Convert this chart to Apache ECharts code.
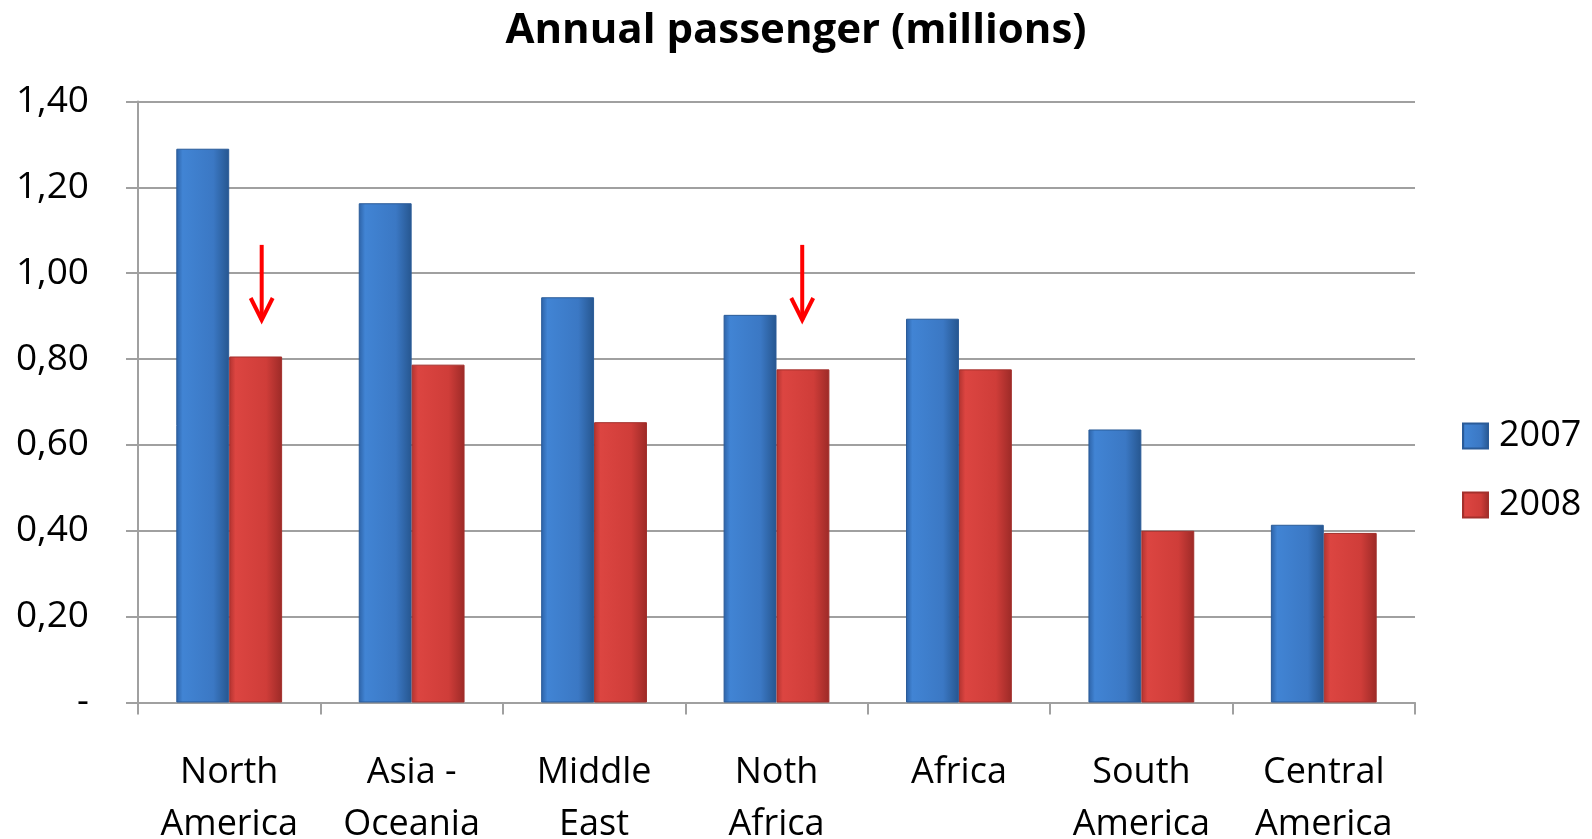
<!DOCTYPE html>
<html>
<head>
<meta charset="utf-8">
<script src="https://cdn.jsdelivr.net/npm/echarts@6/dist/echarts.min.js"></script>
<style>html,body{margin:0;padding:0;background:#fff;}#c{width:1592px;height:839px;}</style>
</head>
<body>
<div id="c"></div>
<script>
const categories = ['North\nAmerica', 'Asia -\nOceania', 'Middle\nEast', 'Noth\nAfrica', 'Africa', 'South\nAmerica', 'Central\nAmerica'];
const series2007 = [1.29, 1.163, 0.944, 0.903, 0.894, 0.636, 0.414];
const series2008 = [0.806, 0.787, 0.653, 0.776, 0.776, 0.400, 0.395];
const yTicks = [0, 0.2, 0.4, 0.6, 0.8, 1.0, 1.2, 1.4];
// arrows: [category index, top value, tip value, offset within band]
const arrows = [[0, 1.066, 0.891, 0.178], [3, 1.066, 0.891, 0.141]];

const FONT = '"Open Sans", Lato, sans-serif';
function grad(c0, c1, c2, c3) {
  return new echarts.graphic.LinearGradient(0, 0, 1, 0, [
    {offset: 0, color: c0}, {offset: 0.12, color: c1}, {offset: 0.7, color: c2}, {offset: 1, color: c3}
  ]);
}
const blue = grad('#2d62a6', '#4184d4', '#3b78c4', '#26568f');
const red = grad('#b23330', '#dc4541', '#cf3d39', '#9c2a27');

const chart = echarts.init(document.getElementById('c'), null, {renderer: 'canvas'});
chart.setOption({
  animation: false,
  title: {
    text: 'Annual passenger (millions)',
    left: 'center', top: 8, padding: 0,
    textStyle: {fontFamily: FONT, fontWeight: 'bold', fontSize: 42, lineHeight: 46, color: '#000'}
  },
  legend: {
    orient: 'vertical', left: 1462, top: 418, padding: 0,
    itemWidth: 25, itemHeight: 25, itemGap: 33,
    data: ['2007', '2008'],
    textStyle: {fontFamily: FONT, fontSize: 36, lineHeight: 36, color: '#000', padding: [0, 0, 0, 6]},
    icon: 'rect'
  },
  grid: {left: 138, right: 177, top: 101.5, bottom: 136.5, containLabel: false, outerBoundsMode: 'none'},
  xAxis: {
    type: 'category', data: categories,
    axisLine: {lineStyle: {color: '#a0a0a0', width: 2}},
    axisTick: {show: true, length: 12, lineStyle: {color: '#a0a0a0', width: 2}},
    axisLabel: {fontFamily: FONT, fontSize: 36, color: '#000', margin: 44, lineHeight: 52, interval: 0, verticalAlign: 'top'}
  },
  yAxis: {
    type: 'value', min: 0, max: 1.4, interval: 0.2,
    axisLine: {show: true, lineStyle: {color: '#a0a0a0', width: 2}},
    axisTick: {show: true, length: 12, lineStyle: {color: '#a0a0a0', width: 2}},
    splitLine: {lineStyle: {color: '#a0a0a0', width: 2}},
    axisLabel: {
      fontFamily: FONT, fontSize: 37, color: '#000', margin: 49, align: 'right',
      formatter: v => {
        const t = yTicks.find(x => Math.abs(x - v) < 1e-6);
        if (t === 0) return '-';
        return (t !== undefined ? t : v).toFixed(2).replace('.', ',');
      }
    }
  },
  series: [
    {name: '2007', type: 'bar', data: series2007, barGap: '0%', barCategoryGap: '42%',
     itemStyle: {color: blue, borderColor: '#2a5b98', borderWidth: 1}},
    {name: '2008', type: 'bar', data: series2008,
     itemStyle: {color: red, borderColor: '#a3302c', borderWidth: 1}},
    {name: 'arrows', type: 'custom', data: arrows, z: 10, silent: true,
     encode: {x: 0, y: [1, 2]},
     renderItem: function (params, api) {
       const idx = api.value(0);
       const band = api.size([1, 0])[0];
       const p0 = api.coord([idx, api.value(1)]);
       const p1 = api.coord([idx, api.value(2)]);
       const x = p0[0] + band * api.value(3);
       const h = 22;
       return {
         type: 'group',
         children: [
           {type: 'line', shape: {x1: x, y1: p0[1], x2: x, y2: p1[1]}, style: {stroke: '#ff0000', lineWidth: 4}},
           {type: 'polyline', shape: {points: [[x - 11, p1[1] - h], [x, p1[1]], [x + 11, p1[1] - h]]}, style: {stroke: '#ff0000', lineWidth: 4, fill: null}}
         ]
       };
     }}
  ]
});
</script>
</body>
</html>
